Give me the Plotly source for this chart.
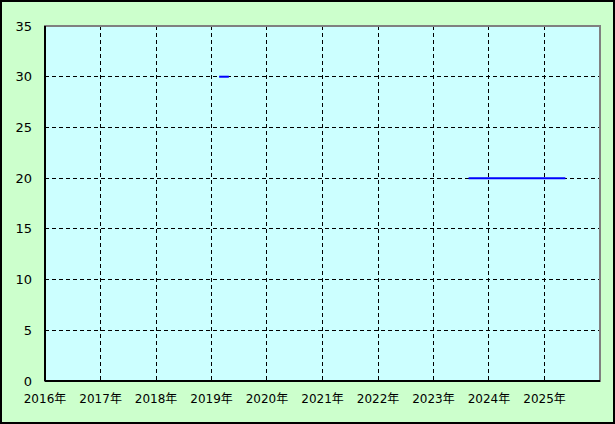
import plotly.graph_objects as go

# Data
seg1_x = ["2019-02-20", "2019-04-25"]
seg1_y = [30, 30]
seg2_x = ["2023-08-20", "2025-05-18"]
seg2_y = [20, 20]
year_ticks = [f"{y}-01-01" for y in range(2016, 2026)]
year_labels = [f"{y}年" for y in range(2016, 2026)]
y_ticks = [0, 5, 10, 15, 20, 25, 30, 35]

W, H = 615, 424
ML, MR, MT, MB = 45, 15, 26, 43
PW, PH = W - ML - MR, H - MT - MB

fig = go.Figure()
for xs, ys in [(seg1_x, seg1_y), (seg2_x, seg2_y)]:
    fig.add_trace(go.Scatter(x=xs, y=ys, mode="lines",
                             line=dict(color="#0000FF", width=2),
                             showlegend=False, hoverinfo="skip"))

fig.update_layout(
    width=W, height=H,
    margin=dict(l=ML, r=MR, t=MT, b=MB, pad=0),
    paper_bgcolor="#CCFFCC",
    plot_bgcolor="#CCFFFF",
    font=dict(family="DejaVu Sans, Noto Sans CJK JP", size=12, color="#000000"),
    showlegend=False,
    xaxis=dict(
        type="date",
        range=["2016-01-01", "2026-01-01"],
        tickvals=year_ticks, ticktext=year_labels,
        showgrid=True, gridcolor="#000000", griddash="4px,3px", gridwidth=1,
        showline=False, zeroline=False, ticks="",
        ticklabelstandoff=9,
        tickfont=dict(family="DejaVu Sans, Noto Sans CJK JP", size=12),
    ),
    yaxis=dict(
        range=[0, 35], tickvals=y_ticks,
        showgrid=True, gridcolor="#000000", griddash="4px,3px", gridwidth=1,
        showline=False, zeroline=False, ticks="",
        ticklabelstandoff=12,
        tickfont=dict(family="DejaVu Sans", size=13),
    ),
)

# plot area border: top/right gray, left/bottom black
fig.add_shape(type="rect", xref="paper", yref="paper", x0=0, x1=1, y0=0, y1=1,
              line=dict(color="#808080", width=2), layer="above")
fig.add_shape(type="line", xref="paper", yref="paper", x0=0, x1=0, y0=0, y1=1,
              line=dict(color="#000000", width=2), layer="above")
fig.add_shape(type="line", xref="paper", yref="paper", x0=0, x1=1, y0=0, y1=0,
              line=dict(color="#000000", width=2), layer="above")
# outer figure border
fig.add_shape(type="rect", xref="paper", yref="paper",
              x0=(-ML + 1) / PW, x1=1 + (MR - 1) / PW,
              y0=(-MB + 1) / PH, y1=1 + (MT - 1) / PH,
              line=dict(color="#000000", width=2), layer="above")

fig.write_html("out.html",
               config={"displayModeBar": False},
               post_script="document.body.style.margin='0';document.body.style.padding='0';")
